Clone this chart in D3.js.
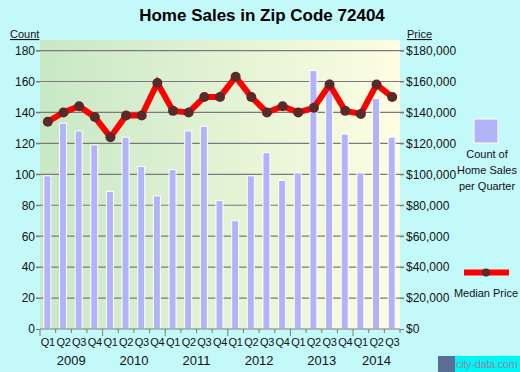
<!DOCTYPE html>
<html>
<head>
<meta charset="utf-8">
<script src="https://cdn.jsdelivr.net/npm/d3@7"></script>
<style>
  body { margin: 0; background: #c4f9fa; }
  svg { display: block; font-family: "Liberation Sans", Arial, sans-serif; }
</style>
</head>
<body>
<div id="chart"></div>
<script>
const years = ['2009', '2010', '2011', '2012', '2013', '2014'];
const quarters = [
  'Q1','Q2','Q3','Q4', 'Q1','Q2','Q3','Q4', 'Q1','Q2','Q3','Q4',
  'Q1','Q2','Q3','Q4', 'Q1','Q2','Q3','Q4', 'Q1','Q2','Q3'
];
const salesCount = [99, 133, 128, 119, 89, 124, 105, 86, 103, 128, 131, 83,
  70, 99, 114, 96, 101, 167, 156, 126, 101, 149, 124];
// median price in thousands of dollars
const medianPrice = [134, 140, 144, 137, 124, 138, 138, 159, 141, 140, 150, 150,
  163, 150, 140, 144, 140, 143, 158, 141, 139, 158, 150];
const countTicks = [0, 20, 40, 60, 80, 100, 120, 140, 160, 180];

const width = 520, height = 372;
const margin = { top: 40, left: 40, right: 120, bottom: 43 };
const plotW = width - margin.left - margin.right;
const plotH = height - margin.top - margin.bottom;

const svg = d3.select('#chart').append('svg')
  .attr('width', width)
  .attr('height', height);

const defs = svg.append('defs');
const grad = defs.append('linearGradient').attr('id', 'bg').attr('x1', 0).attr('x2', 1).attr('y1', 0).attr('y2', 0);
grad.append('stop').attr('offset', '0%').attr('stop-color', '#c8e8c6');
grad.append('stop').attr('offset', '100%').attr('stop-color', '#fdfde2');

// title
svg.append('text')
  .attr('x', 262).attr('y', 21)
  .attr('text-anchor', 'middle')
  .style('font-size', '17px').style('font-weight', 'bold')
  .text('Home Sales in Zip Code 72404');

const chart = svg.append('g')
  .attr('transform', `translate(${margin.left}, ${margin.top})`);

chart.append('rect')
  .attr('width', plotW).attr('height', plotH)
  .attr('fill', 'url(#bg)');

const idx = d3.range(salesCount.length);
const xScale = d3.scaleBand().domain(idx).range([0, plotW]);
const yScale = d3.scaleLinear().domain([0, 180]).range([plotH, plotH - 180 * 1.547]);

// grid lines
chart.append('g').selectAll('line')
  .data(countTicks.filter(d => d > 0))
  .enter().append('line')
  .attr('x1', -4).attr('x2', plotW + 4)
  .attr('y1', d => yScale(d)).attr('y2', d => yScale(d))
  .attr('stroke', '#7a7a7a').attr('stroke-width', 1.2);

// left axis
const yAxisL = chart.append('g')
  .call(d3.axisLeft(yScale).tickValues(countTicks).tickSize(4).tickSizeOuter(0));
yAxisL.select('.domain').remove();
yAxisL.selectAll('line').attr('stroke', '#7a7a7a');
yAxisL.selectAll('text').style('font-size', '12px').attr('fill', '#111').attr('x', -5);

// right axis
const yAxisR = chart.append('g')
  .attr('transform', `translate(${plotW}, 0)`)
  .call(d3.axisRight(yScale).tickValues(countTicks).tickSize(4)
    .tickFormat(d => d === 0 ? '$0' : '$' + d3.format(',')(d * 1000)));
yAxisR.select('.domain').remove();
yAxisR.selectAll('line').attr('stroke', '#7a7a7a');
yAxisR.selectAll('text').style('font-size', '12px').attr('fill', '#111').attr('x', 6);

// bars
chart.append('g').selectAll('.bar')
  .data(salesCount)
  .enter().append('rect')
  .attr('class', 'bar')
  .attr('x', (d, i) => xScale(i) + xScale.bandwidth() / 2 - 4)
  .attr('y', d => yScale(d))
  .attr('width', 7)
  .attr('height', d => yScale(0) - yScale(d))
  .attr('fill', '#b3b3fa')
  .attr('stroke', '#ffffff').attr('stroke-width', 1);

// x axis baseline and ticks
const xAxis = chart.append('g').attr('transform', `translate(0, ${plotH})`);
xAxis.append('line').attr('x1', 0).attr('x2', plotW).attr('stroke', '#7a7a7a');
xAxis.selectAll('.qtick')
  .data(d3.range(salesCount.length + 1))
  .enter().append('line')
  .attr('class', 'qtick')
  .attr('x1', i => i < salesCount.length ? xScale(i) : plotW)
  .attr('x2', i => i < salesCount.length ? xScale(i) : plotW)
  .attr('y1', 0).attr('y2', i => i % 4 === 0 ? 7 : 4)
  .attr('stroke', '#7a7a7a');
xAxis.selectAll('.qlabel')
  .data(quarters)
  .enter().append('text')
  .attr('x', (d, i) => xScale(i) + xScale.bandwidth() / 2)
  .attr('y', 17)
  .attr('text-anchor', 'middle')
  .style('font-size', '11px').style('letter-spacing', '-0.3px').attr('fill', '#111')
  .text(d => d);
xAxis.selectAll('.ylabel')
  .data(years)
  .enter().append('text')
  .attr('x', (d, i) => {
    const start = i * 4, end = Math.min(start + 4, salesCount.length);
    return (xScale(start) + xScale(end - 1) + xScale.bandwidth()) / 2;
  })
  .attr('y', 36)
  .attr('text-anchor', 'middle')
  .style('font-size', '13px').attr('fill', '#111')
  .text(d => d);

// median price line
const line = d3.line()
  .x((d, i) => xScale(i) + xScale.bandwidth() / 2)
  .y(d => yScale(d));
chart.append('path')
  .datum(medianPrice)
  .attr('d', line)
  .attr('fill', 'none')
  .attr('stroke', '#ff0000').attr('stroke-width', 6)
  .attr('stroke-linejoin', 'miter');
chart.append('g').selectAll('circle')
  .data(medianPrice)
  .enter().append('circle')
  .attr('cx', (d, i) => xScale(i) + xScale.bandwidth() / 2)
  .attr('cy', d => yScale(d))
  .attr('r', 5)
  .attr('fill', '#5a2a2a');

// axis captions
svg.append('text').attr('x', 10).attr('y', 38)
  .style('font-size', '11px').attr('fill', '#111')
  .attr('text-decoration', 'underline').text('Count');
svg.append('text').attr('x', 407).attr('y', 38)
  .style('font-size', '11px').attr('fill', '#111')
  .attr('text-decoration', 'underline').text('Price');

// legend
const legend = svg.append('g');
legend.append('rect')
  .attr('x', 474).attr('y', 119).attr('width', 24).attr('height', 24)
  .attr('fill', '#b3b3fa').attr('stroke', '#ffffff');
['Count of', 'Home Sales', 'per Quarter'].forEach((t, i) => {
  legend.append('text')
    .attr('x', 487).attr('y', 158 + i * 16)
    .attr('text-anchor', 'middle')
    .style('font-size', '11px').attr('fill', '#111')
    .text(t);
});
legend.append('line')
  .attr('x1', 464).attr('x2', 509).attr('y1', 272.5).attr('y2', 272.5)
  .attr('stroke', '#ff0000').attr('stroke-width', 6);
legend.append('circle')
  .attr('cx', 486).attr('cy', 272.5).attr('r', 4)
  .attr('fill', '#5a2a2a');
legend.append('text')
  .attr('x', 486).attr('y', 297)
  .attr('text-anchor', 'middle')
  .style('font-size', '11px').attr('fill', '#111')
  .text('Median Price');

// watermark
const wm = svg.append('g').attr('transform', 'translate(438, 356)');
wm.append('rect').attr('width', 17).attr('height', 16).attr('fill', '#5a6e94');
wm.append('rect').attr('x', 17).attr('width', 65).attr('height', 16).attr('fill', '#00f5f5');
wm.append('text').attr('x', 18).attr('y', 12)
  .style('font-size', '11px').style('letter-spacing', '-0.3px').attr('fill', '#8a8aa8')
  .text('city-data.com');
</script>
</body>
</html>
